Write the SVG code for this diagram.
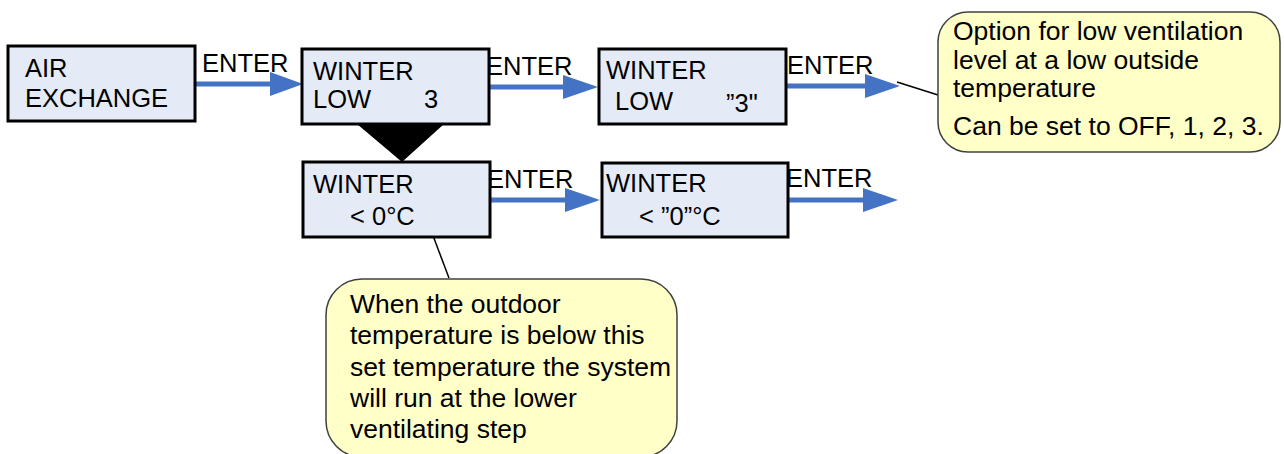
<svg xmlns="http://www.w3.org/2000/svg" width="1284" height="454" viewBox="0 0 1284 454">
<style>
.box{fill:#e5ebf6;stroke:#000;stroke-width:3}
.t{font-family:"Liberation Sans",Arial,sans-serif;font-size:25.5px;fill:#000}
.c{font-family:"Liberation Sans",Arial,sans-serif;font-size:26.5px;fill:#000}
.arr{stroke:#4472c4;stroke-width:5;fill:none}
.head{fill:#4472c4}
.call{fill:#ffffc8;stroke:#404040;stroke-width:1.5}
.lead{stroke:#000;stroke-width:1.5}
</style>
<rect width="1284" height="454" fill="#fff"/>
<g id="connectors">
<line class="arr" x1="195" y1="84" x2="272" y2="84"/><polygon class="head" points="270,72 303,84 270,96"/>
<line class="arr" x1="489" y1="87" x2="566" y2="87"/><polygon class="head" points="563,75 598,87 563,99"/>
<line class="arr" x1="786" y1="86" x2="868" y2="86"/><polygon class="head" points="865,74 900,86 865,98"/>
<line class="arr" x1="490" y1="200" x2="568" y2="200"/><polygon class="head" points="565,188 600,200 565,212"/>
<line class="arr" x1="788" y1="200" x2="866" y2="200"/><polygon class="head" points="863,188 898,200 863,212"/>
<polygon fill="#000" points="357,124 444,124 402,162"/>
<line class="lead" x1="897" y1="82" x2="938" y2="95"/>
<line class="lead" x1="432" y1="233" x2="449" y2="278"/>
<text class="t" x="202" y="72">ENTER</text>
<text class="t" x="486" y="75">ENTER</text>
<text class="t" x="787" y="74">ENTER</text>
<text class="t" x="487" y="188">ENTER</text>
<text class="t" x="786" y="187">ENTER</text>
</g>
<g id="n-air">
<rect class="box" x="8" y="46" width="187" height="75"/>
<text class="t" x="25" y="77">AIR</text>
<text class="t" x="25" y="107">EXCHANGE</text>
</g>
<g id="n-winter-low">
<rect class="box" x="302" y="49" width="187" height="75"/>
<text class="t" x="313" y="80">WINTER</text>
<text class="t" x="313" y="108">LOW</text>
<text class="t" x="424" y="108">3</text>
</g>
<g id="n-winter-low-set">
<rect class="box" x="599" y="49" width="187" height="75"/>
<text class="t" x="606" y="79">WINTER</text>
<text class="t" x="615" y="110">LOW</text>
<text class="t" x="726" y="112">”3"</text>
</g>
<g id="n-winter-temp">
<rect class="box" x="303" y="162" width="187" height="75"/>
<text class="t" x="313" y="193">WINTER</text>
<text class="t" x="350" y="225">&lt; 0°C</text>
</g>
<g id="n-winter-temp-set">
<rect class="box" x="602" y="163" width="186" height="74"/>
<text class="t" x="606" y="192">WINTER</text>
<text class="t" x="639" y="225">&lt; ”0”°C</text>
</g>
<g id="callout-low">
<rect class="call" x="938" y="12" width="342" height="140" rx="30" ry="30"/>
<text class="c" x="953" y="40">Option for low ventilation</text>
<text class="c" x="953" y="69">level at a low outside</text>
<text class="c" x="953" y="97">temperature</text>
<text class="c" x="953" y="135">Can be set to OFF, 1, 2, 3.</text>
</g>
<g id="callout-temp">
<rect class="call" x="326" y="279" width="351" height="178" rx="36" ry="36"/>
<text class="c" x="350" y="313">When the outdoor</text>
<text class="c" x="350" y="344">temperature is below this</text>
<text class="c" x="350" y="376">set temperature the system</text>
<text class="c" x="350" y="407">will run at the lower</text>
<text class="c" x="350" y="438">ventilating step</text>
</g>
</svg>
